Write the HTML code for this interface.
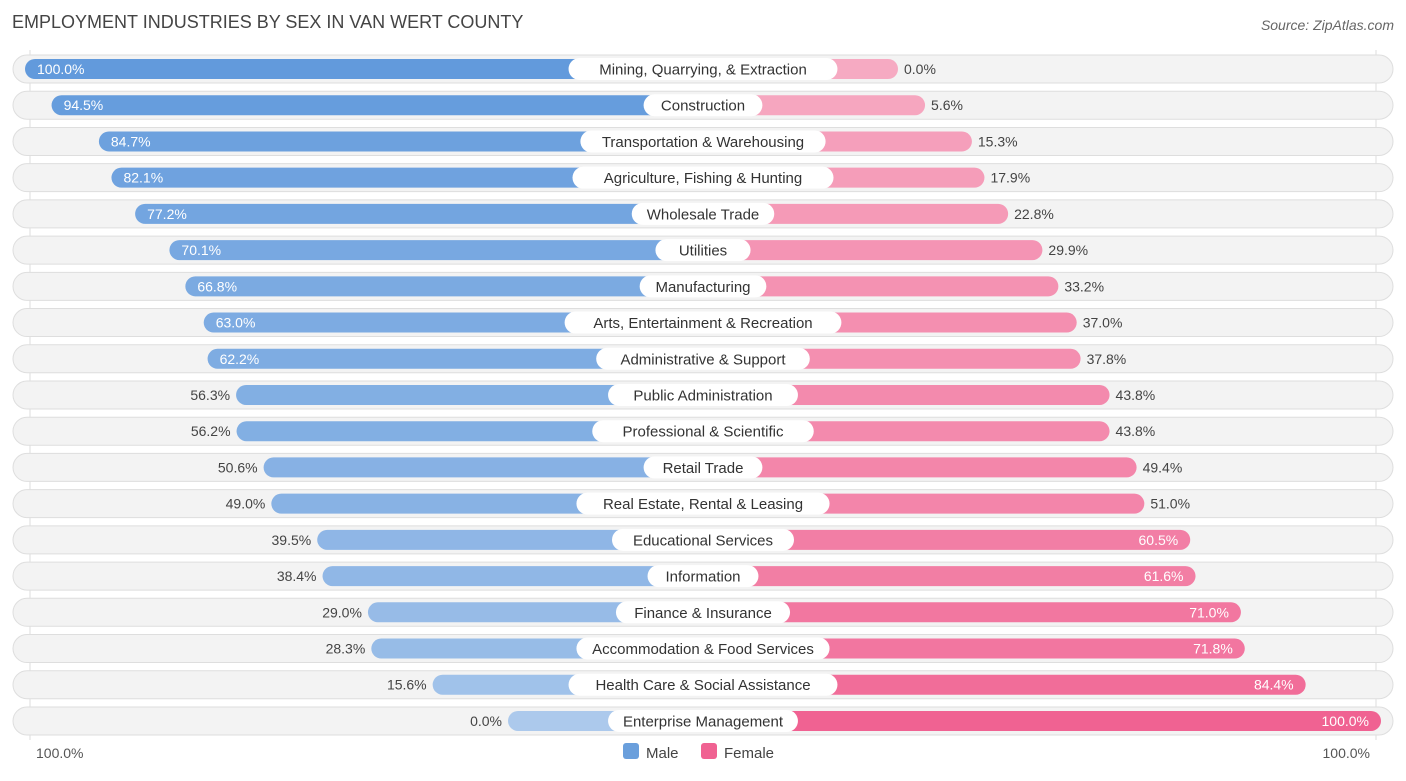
<!DOCTYPE html>
<html><head><meta charset="utf-8"><style>
body{margin:0;background:#fff;font-family:"Liberation Sans",sans-serif;}
svg text{font-family:"Liberation Sans",sans-serif;}
</style></head><body>
<svg id="chart" width="1406" height="776" xmlns="http://www.w3.org/2000/svg">
<text x="12" y="28" font-size="18" fill="#444">EMPLOYMENT INDUSTRIES BY SEX IN VAN WERT COUNTY</text>
<text x="1394" y="30" font-size="14" fill="#666" font-style="italic" text-anchor="end">Source: ZipAtlas.com</text>
<line x1="30" y1="50" x2="30" y2="740" stroke="#ddd"/>
<line x1="1376" y1="50" x2="1376" y2="740" stroke="#ddd"/>
<g id="rows"></g>
<text x="36" y="758" font-size="14" fill="#555">100.0%</text>
<text x="1370" y="758" font-size="14" fill="#555" text-anchor="end">100.0%</text>
<rect x="623" y="743" width="16" height="16" rx="3" fill="#6a9fdc"/>
<text x="646" y="758" font-size="15" fill="#444">Male</text>
<rect x="701" y="743" width="16" height="16" rx="3" fill="#f06292"/>
<text x="724" y="758" font-size="15" fill="#444">Female</text>
</svg>
<script>
const categories=["Mining, Quarrying, & Extraction","Construction","Transportation & Warehousing","Agriculture, Fishing & Hunting","Wholesale Trade","Utilities","Manufacturing","Arts, Entertainment & Recreation","Administrative & Support","Public Administration","Professional & Scientific","Retail Trade","Real Estate, Rental & Leasing","Educational Services","Information","Finance & Insurance","Accommodation & Food Services","Health Care & Social Assistance","Enterprise Management"];
const maleValues=[100.0,94.5,84.7,82.1,77.2,70.1,66.8,63.0,62.2,56.3,56.2,50.6,49.0,39.5,38.4,29.0,28.3,15.6,0.0];
const femaleValues=[0.0,5.6,15.3,17.9,22.8,29.9,33.2,37.0,37.8,43.8,43.8,49.4,51.0,60.5,61.6,71.0,71.8,84.4,100.0];
const NS="http://www.w3.org/2000/svg";
const cx=703,base=195,span=483,y0=69,step=36.22;
function xm(v){return cx-(base+v/100*span);}
function xf(v){return cx+base+v/100*span;}
function mix(a,b,t){return "rgb("+a.map((c,i)=>Math.round(c+(b[i]-c)*t)).join(",")+")";}
const g=document.getElementById('rows');
function el(t,a){const e=document.createElementNS(NS,t);for(const k in a)e.setAttribute(k,a[k]);g.appendChild(e);return e;}
categories.forEach((c,i)=>{
 const y=y0+i*step;
 const bg=el('rect',{x:13,y:y-14,width:1380,height:28,rx:14,fill:'#f3f3f3',stroke:'#dedede'});
 
 
 const m=maleValues[i],f=femaleValues[i];
 const mx=xm(m);
 const mb=el('rect',{x:mx,y:y-10,width:cx-mx,height:20,rx:10,fill:mix([172,201,236],[98,154,220],m/100)});
 
 
 const fx=xf(f);
 const fb=el('rect',{x:cx,y:y-10,width:fx-cx,height:20,rx:10,fill:mix([246,170,194],[240,98,146],f/100)});
 
 
 const lw=c.length*7.9+24;
 const lb=el('rect',{x:cx-lw/2,y:y-11,width:lw,height:22,rx:11,fill:'#fff'});
 
 
 const lt=el('text',{x:cx,y:y+5.5,'font-size':15,fill:'#333','text-anchor':'middle'});
 lt.textContent=c;
 
 
 const mIn=m>=60;
 const mt=el('text',{x:mIn?mx+12:mx-6,y:y+5,'font-size':14,fill:mIn?'#fff':'#444','text-anchor':mIn?'start':'end'});
 mt.textContent=m.toFixed(1)+"%";
 
 
 const fIn=f>=60;
 const ft=el('text',{x:fIn?fx-12:fx+6,y:y+5,'font-size':14,fill:fIn?'#fff':'#444','text-anchor':fIn?'end':'start'});
 ft.textContent=f.toFixed(1)+"%";
 
 
});
</script>
</body></html>
